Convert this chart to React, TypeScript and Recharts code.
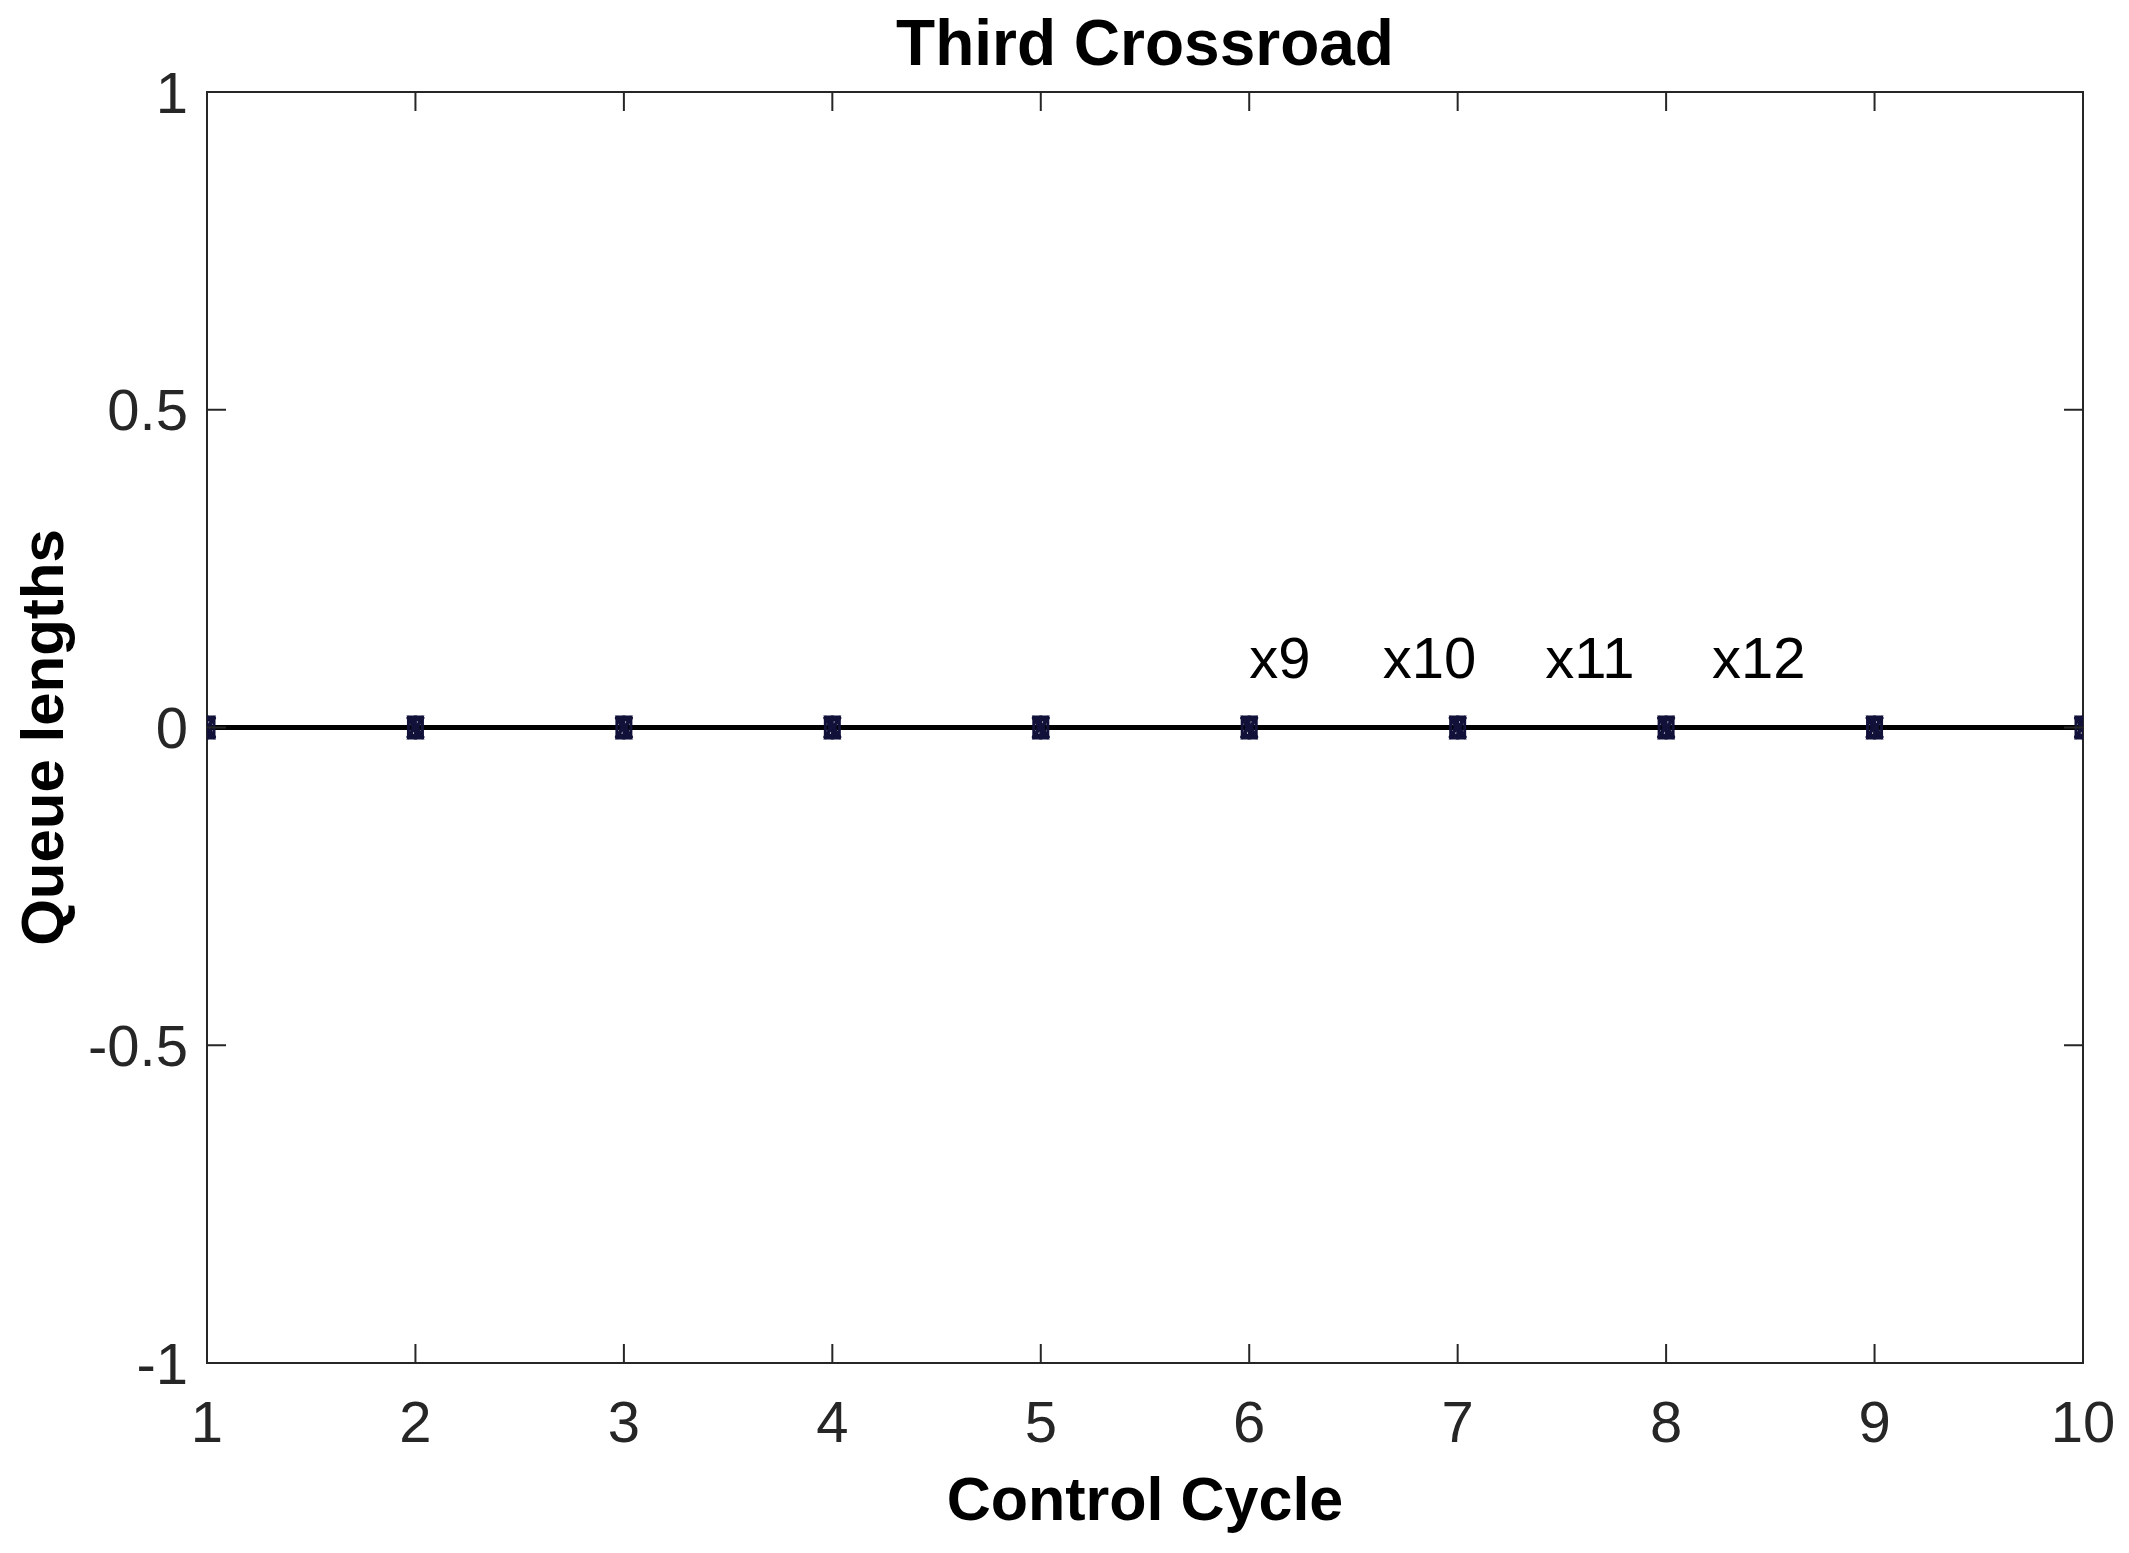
import React from 'react';
import { LineChart, Line, XAxis, YAxis, ReferenceDot, ReferenceArea } from 'recharts';

// ---- data ----
const cycles = [1, 2, 3, 4, 5, 6, 7, 8, 9, 10];
const x9 = [0, 0, 0, 0, 0, 0, 0, 0, 0, 0];
const x10 = [0, 0, 0, 0, 0, 0, 0, 0, 0, 0];
const x11 = [0, 0, 0, 0, 0, 0, 0, 0, 0, 0];
const x12 = [0, 0, 0, 0, 0, 0, 0, 0, 0, 0];
const xTicks = [1, 2, 3, 4, 5, 6, 7, 8, 9, 10];
const yTicks = [-1, -0.5, 0, 0.5, 1];
const annotationNames = ['x9', 'x10', 'x11', 'x12'];
const annotationX = [6, 6.64, 7.42, 8.22];
const annotationY = [0.11, 0.11, 0.11, 0.11];
const titleText = 'Third Crossroad';
const xLabelText = 'Control Cycle';
const yLabelText = 'Queue lengths';

const data = cycles.map((c, i) => ({ cycle: c, x9: x9[i], x10: x10[i], x11: x11[i], x12: x12[i] }));

const FONT = '"Liberation Sans", Arial, Helvetica, sans-serif';
const AXIS = '#262626';
const MARK = '#11113a';
const TICK_LEN = 19;

const starDot = (p: any) => {
  const { cx, cy, key } = p;
  if (cx == null || cy == null) return <g key={key} />;
  return (
    <g key={key}>
      <line x1={cx} y1={cy - 12} x2={cx} y2={cy + 12} stroke={MARK} strokeWidth={3} />
      <line x1={cx - 8} y1={cy - 10} x2={cx + 8} y2={cy + 10} stroke={MARK} strokeWidth={3} />
      <line x1={cx + 8} y1={cy - 10} x2={cx - 8} y2={cy + 10} stroke={MARK} strokeWidth={3} />
    </g>
  );
};
const squareDot = (p: any) => {
  const { cx, cy, key } = p;
  if (cx == null || cy == null) return <g key={key} />;
  return <rect key={key} x={cx - 7} y={cy - 9} width={14} height={18} fill="none" stroke={MARK} strokeWidth={3} />;
};
const bowDot = (p: any) => {
  const { cx, cy, key } = p;
  if (cx == null || cy == null) return <g key={key} />;
  return (
    <polygon
      key={key}
      points={`${cx - 9},${cy - 12} ${cx + 9},${cy - 12} ${cx + 4},${cy} ${cx + 9},${cy + 12} ${cx - 9},${cy + 12} ${cx - 4},${cy}`}
      fill={MARK}
    />
  );
};
const xDot = (p: any) => {
  const { cx, cy, key } = p;
  if (cx == null || cy == null) return <g key={key} />;
  return (
    <g key={key}>
      <line x1={cx - 8} y1={cy - 11} x2={cx + 8} y2={cy + 11} stroke={MARK} strokeWidth={3} />
      <line x1={cx + 8} y1={cy - 11} x2={cx - 8} y2={cy + 11} stroke={MARK} strokeWidth={3} />
      <circle cx={cx + 1} cy={cy - 5} r={1.6} fill="#ffffff" />
      <circle cx={cx - 1} cy={cy + 5} r={1.6} fill="#ffffff" />
    </g>
  );
};

const BottomTick = (props: any) => {
  const { x, y, payload } = props;
  return (
    <g>
      <line x1={x} y1={y} x2={x} y2={y - TICK_LEN} stroke={AXIS} strokeWidth={2} />
      <text x={x} y={y + 79} textAnchor="middle" fontFamily={FONT} fontSize={58} fill={AXIS}>
        {payload.value}
      </text>
    </g>
  );
};
const TopTick = (props: any) => {
  const { x, y } = props;
  return <line x1={x} y1={y} x2={x} y2={y + TICK_LEN} stroke={AXIS} strokeWidth={2} />;
};
const LeftTick = (props: any) => {
  const { x, y, payload } = props;
  return (
    <g>
      <line x1={x} y1={y} x2={x + TICK_LEN} y2={y} stroke={AXIS} strokeWidth={2} />
      <text x={x - 19} y={y} dy="0.355em" textAnchor="end" fontFamily={FONT} fontSize={58} fill={AXIS}>
        {payload.value}
      </text>
    </g>
  );
};
const RightTick = (props: any) => {
  const { x, y } = props;
  return <line x1={x} y1={y} x2={x - TICK_LEN} y2={y} stroke={AXIS} strokeWidth={2} />;
};

const TitleLabel = (props: any) => {
  const vb = props.viewBox || {};
  return (
    <text x={vb.x + vb.width / 2} y={92 - 27} textAnchor="middle" fontFamily={FONT} fontWeight="bold" fontSize={64} fill="#000">
      {titleText}
    </text>
  );
};
const XLabel = (props: any) => {
  const vb = props.viewBox || {};
  return (
    <text x={vb.x + vb.width / 2} y={vb.y + 157} textAnchor="middle" fontFamily={FONT} fontWeight="bold" fontSize={61} fill="#000">
      {xLabelText}
    </text>
  );
};
const YLabel = (props: any) => {
  const vb = props.viewBox || {};
  const x = vb.x + 63;
  const y = vb.y + vb.height / 2 + 10;
  return (
    <text x={x} y={y} transform={`rotate(-90, ${x}, ${y})`} textAnchor="middle" fontFamily={FONT} fontWeight="bold" fontSize={60} fill="#000">
      {yLabelText}
    </text>
  );
};

export default function App() {
  return (
    <div style={{ position: 'absolute', left: 0, top: 0, background: '#fff' }}>
      <LineChart width={2129} height={1553} data={data} margin={{ top: 91, right: 45, bottom: 0, left: 0 }}>
        <XAxis
          dataKey="cycle"
          type="number"
          domain={[1, 10]}
          ticks={xTicks}
          interval={0}
          height={190}
          tickSize={0}
          tickMargin={0}
          tickLine={false}
          stroke={AXIS}
          strokeWidth={2}
          tick={<BottomTick />}
          allowDataOverflow
          label={<XLabel />}
        />
        <XAxis
          xAxisId="top"
          dataKey="cycle"
          orientation="top"
          type="number"
          domain={[1, 10]}
          ticks={xTicks}
          interval={0}
          height={1}
          tickSize={0}
          tickMargin={0}
          tickLine={false}
          tick={<TopTick />}
          stroke={AXIS}
          strokeWidth={2}
          allowDataOverflow
          label={<TitleLabel />}
        />
        <YAxis
          type="number"
          domain={[-1, 1]}
          ticks={yTicks}
          interval={0}
          width={207}
          tickSize={0}
          tickMargin={0}
          tickLine={false}
          stroke={AXIS}
          strokeWidth={2}
          tick={<LeftTick />}
          allowDataOverflow
          label={<YLabel />}
        />
        <YAxis
          yAxisId="right"
          orientation="right"
          type="number"
          domain={[-1, 1]}
          ticks={yTicks}
          interval={0}
          width={1}
          tickSize={0}
          tickMargin={0}
          tickLine={false}
          tick={<RightTick />}
          stroke={AXIS}
          strokeWidth={2}
          allowDataOverflow
        />
        <ReferenceArea x1={1} x2={10} y1={-1} y2={1} fill="none" fillOpacity={0} stroke={AXIS} strokeWidth={2} ifOverflow="visible" />
        <Line dataKey="x9" stroke="#000" strokeWidth={5} dot={bowDot} isAnimationActive={false} />
        <Line dataKey="x10" stroke="#000" strokeWidth={5} dot={squareDot} isAnimationActive={false} />
        <Line dataKey="x11" stroke="#000" strokeWidth={5} dot={xDot} isAnimationActive={false} />
        <Line dataKey="x12" stroke="#000" strokeWidth={5} dot={starDot} isAnimationActive={false} />
        {annotationNames.map((name, i) => (
          <ReferenceDot
            key={name}
            x={annotationX[i]}
            y={annotationY[i]}
            ifOverflow="visible"
            shape={(p: any) => (
              <text x={p.cx} y={p.cy} dy="0.36em" textAnchor="start" fontFamily={FONT} fontSize={58} fill="#000">
                {name}
              </text>
            )}
          />
        ))}
      </LineChart>
    </div>
  );
}
